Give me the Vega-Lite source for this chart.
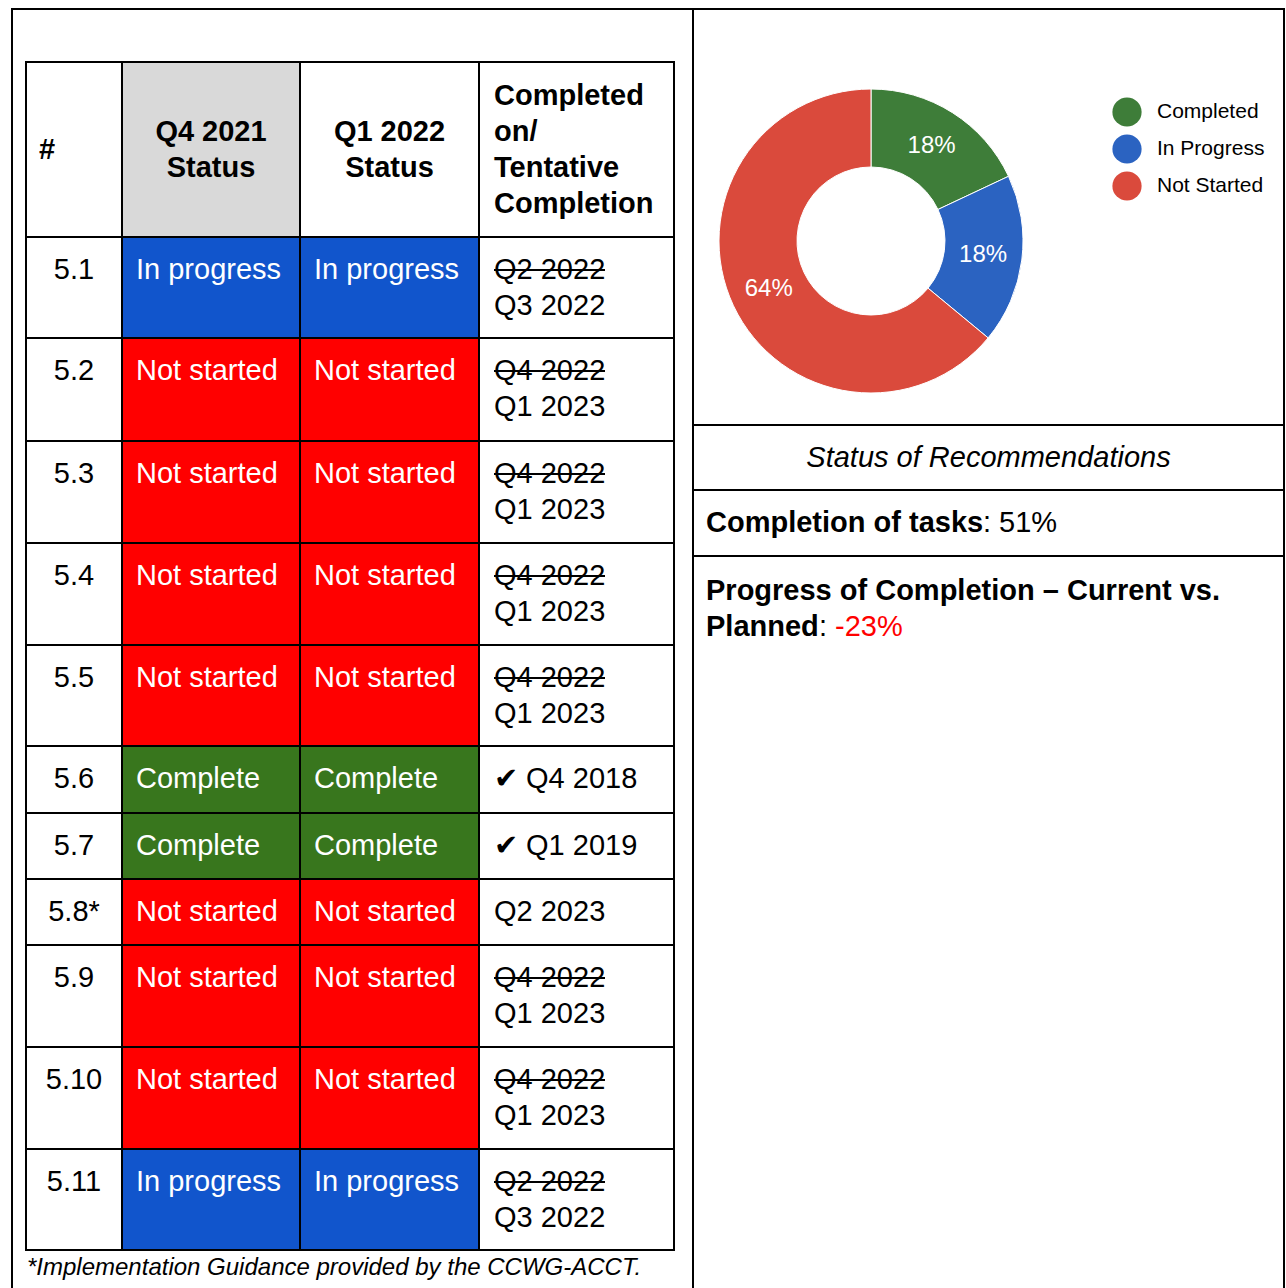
{
  "$schema": "https://vega.github.io/schema/vega-lite/v6.json",
  "background": "white",
  "padding": {"left": 11, "top": 8, "right": 0, "bottom": 0},
  "spacing": 0,
  "bounds": "flush",
  "config": {
    "view": {"stroke": null},
    "font": "Liberation Sans",
    "text": {"font": "Liberation Sans", "fontSize": 29, "color": "black"}
  },
  "datasets": {
    "cells": [
      {"r": 0, "c": 0, "kind": "header", "text": "#"},
      {"r": 0, "c": 1, "kind": "header", "text": ["Q4 2021", "Status"]},
      {"r": 0, "c": 2, "kind": "header", "text": ["Q1 2022", "Status"]},
      {"r": 0, "c": 3, "kind": "header", "text": ["Completed", "on/", "Tentative", "Completion"]},

      {"r": 1, "c": 0, "kind": "id", "text": "5.1"},
      {"r": 1, "c": 1, "kind": "status", "text": "In progress"},
      {"r": 1, "c": 2, "kind": "status", "text": "In progress"},
      {"r": 1, "c": 3, "kind": "date", "text": ["Q2 2022", "Q3 2022"], "struck": true},

      {"r": 2, "c": 0, "kind": "id", "text": "5.2"},
      {"r": 2, "c": 1, "kind": "status", "text": "Not started"},
      {"r": 2, "c": 2, "kind": "status", "text": "Not started"},
      {"r": 2, "c": 3, "kind": "date", "text": ["Q4 2022", "Q1 2023"], "struck": true},

      {"r": 3, "c": 0, "kind": "id", "text": "5.3"},
      {"r": 3, "c": 1, "kind": "status", "text": "Not started"},
      {"r": 3, "c": 2, "kind": "status", "text": "Not started"},
      {"r": 3, "c": 3, "kind": "date", "text": ["Q4 2022", "Q1 2023"], "struck": true},

      {"r": 4, "c": 0, "kind": "id", "text": "5.4"},
      {"r": 4, "c": 1, "kind": "status", "text": "Not started"},
      {"r": 4, "c": 2, "kind": "status", "text": "Not started"},
      {"r": 4, "c": 3, "kind": "date", "text": ["Q4 2022", "Q1 2023"], "struck": true},

      {"r": 5, "c": 0, "kind": "id", "text": "5.5"},
      {"r": 5, "c": 1, "kind": "status", "text": "Not started"},
      {"r": 5, "c": 2, "kind": "status", "text": "Not started"},
      {"r": 5, "c": 3, "kind": "date", "text": ["Q4 2022", "Q1 2023"], "struck": true},

      {"r": 6, "c": 0, "kind": "id", "text": "5.6"},
      {"r": 6, "c": 1, "kind": "status", "text": "Complete"},
      {"r": 6, "c": 2, "kind": "status", "text": "Complete"},
      {"r": 6, "c": 3, "kind": "date", "text": "✔ Q4 2018"},

      {"r": 7, "c": 0, "kind": "id", "text": "5.7"},
      {"r": 7, "c": 1, "kind": "status", "text": "Complete"},
      {"r": 7, "c": 2, "kind": "status", "text": "Complete"},
      {"r": 7, "c": 3, "kind": "date", "text": "✔ Q1 2019"},

      {"r": 8, "c": 0, "kind": "id", "text": "5.8*"},
      {"r": 8, "c": 1, "kind": "status", "text": "Not started"},
      {"r": 8, "c": 2, "kind": "status", "text": "Not started"},
      {"r": 8, "c": 3, "kind": "date", "text": "Q2 2023"},

      {"r": 9, "c": 0, "kind": "id", "text": "5.9"},
      {"r": 9, "c": 1, "kind": "status", "text": "Not started"},
      {"r": 9, "c": 2, "kind": "status", "text": "Not started"},
      {"r": 9, "c": 3, "kind": "date", "text": ["Q4 2022", "Q1 2023"], "struck": true},

      {"r": 10, "c": 0, "kind": "id", "text": "5.10"},
      {"r": 10, "c": 1, "kind": "status", "text": "Not started"},
      {"r": 10, "c": 2, "kind": "status", "text": "Not started"},
      {"r": 10, "c": 3, "kind": "date", "text": ["Q4 2022", "Q1 2023"], "struck": true},

      {"r": 11, "c": 0, "kind": "id", "text": "5.11"},
      {"r": 11, "c": 1, "kind": "status", "text": "In progress"},
      {"r": 11, "c": 2, "kind": "status", "text": "In progress"},
      {"r": 11, "c": 3, "kind": "date", "text": ["Q2 2022", "Q3 2022"], "struck": true},

      {"r": 12, "c": 0, "kind": "note", "text": "*Implementation Guidance provided by the CCWG-ACCT."}
    ],
    "status_share": [
      {"status": "Completed", "share": 0.18},
      {"status": "In Progress", "share": 0.18},
      {"status": "Not Started", "share": 0.64}
    ]
  },
  "hconcat": [
    {
      "width": 681,
      "height": 1281,
      "view": {"stroke": "black", "strokeWidth": 2},
      "data": {"name": "cells"},
      "transform": [
        {"calculate": "datum.c + 1", "as": "c_end"},
        {"calculate": "datum.c + 0.5", "as": "c_mid"},
        {"calculate": "datum.r + 1", "as": "r_end"},
        {"calculate": "datum.r + 0.5", "as": "r_mid"}
      ],
      "encoding": {
        "x": {
          "field": "c", "type": "quantitative", "axis": null,
          "scale": {"domain": [0, 1, 2, 3, 4], "range": [14, 110, 288, 467, 662], "nice": false, "zero": false}
        },
        "y": {
          "field": "r", "type": "quantitative", "axis": null,
          "scale": {
            "domain": [0, 1, 2, 3, 4, 5, 6, 7, 8, 9, 10, 11, 12],
            "range": [53, 228, 329, 432, 534, 636, 737, 804, 870, 936, 1038, 1140, 1241],
            "nice": false, "zero": false
          }
        }
      },
      "layer": [
        {
          "transform": [{"filter": "datum.kind === 'status'"}],
          "mark": {"type": "rect"},
          "encoding": {
            "x2": {"field": "c_end"},
            "y2": {"field": "r_end"},
            "fill": {
              "field": "text", "type": "nominal", "legend": null,
              "scale": {"domain": ["In progress", "Not started", "Complete"], "range": ["#1155cc", "#ff0000", "#38761d"]}
            }
          }
        },
        {
          "transform": [{"filter": "datum.r === 0 && datum.c === 1"}],
          "mark": {"type": "rect", "fill": "#d9d9d9"},
          "encoding": {"x2": {"field": "c_end"}, "y2": {"field": "r_end"}}
        },
        {
          "transform": [{"filter": "datum.kind !== 'note'"}],
          "mark": {"type": "rect", "fillOpacity": 0, "stroke": "black", "strokeWidth": 2},
          "encoding": {"x2": {"field": "c_end"}, "y2": {"field": "r_end"}}
        },
        {
          "transform": [{"filter": "datum.r === 0 && datum.c === 0"}],
          "mark": {"type": "text", "align": "left", "baseline": "middle", "fontWeight": "bold", "dx": 13},
          "encoding": {"y": {"field": "r_mid"}, "text": {"field": "text"}}
        },
        {
          "transform": [{"filter": "datum.r === 0 && (datum.c === 1 || datum.c === 2)"}],
          "mark": {"type": "text", "align": "center", "baseline": "middle", "fontWeight": "bold", "lineHeight": 36, "dy": -18},
          "encoding": {"x": {"field": "c_mid"}, "y": {"field": "r_mid"}, "text": {"field": "text"}}
        },
        {
          "transform": [{"filter": "datum.r === 0 && datum.c === 3"}],
          "mark": {"type": "text", "align": "left", "baseline": "middle", "fontWeight": "bold", "lineHeight": 36, "dx": 15, "dy": -54},
          "encoding": {"y": {"field": "r_mid"}, "text": {"field": "text"}}
        },
        {
          "transform": [{"filter": "datum.kind === 'id'"}],
          "mark": {"type": "text", "align": "center", "baseline": "alphabetic", "dy": 42},
          "encoding": {"x": {"field": "c_mid"}, "text": {"field": "text"}}
        },
        {
          "transform": [{"filter": "datum.kind === 'status'"}],
          "mark": {"type": "text", "align": "left", "baseline": "alphabetic", "dx": 14, "dy": 42, "color": "white"},
          "encoding": {"text": {"field": "text"}}
        },
        {
          "transform": [{"filter": "datum.kind === 'date'"}],
          "mark": {"type": "text", "align": "left", "baseline": "alphabetic", "dx": 15, "dy": 42, "lineHeight": 36},
          "encoding": {"text": {"field": "text"}}
        },
        {
          "transform": [{"filter": "datum.struck === true"}],
          "mark": {"type": "rule", "color": "black", "strokeWidth": 2, "xOffset": 15, "x2Offset": 126, "yOffset": 33},
          "encoding": {"x2": {"field": "c"}}
        },
        {
          "transform": [{"filter": "datum.kind === 'note'"}],
          "mark": {"type": "text", "align": "left", "baseline": "middle", "fontStyle": "italic", "fontSize": 24, "dx": 1, "dy": 18},
          "encoding": {"text": {"field": "text"}}
        }
      ]
    },
    {
      "spacing": 0,
      "bounds": "flush",
      "vconcat": [
        {
          "width": 591,
          "height": 416,
          "view": {"stroke": "black", "strokeWidth": 2},
          "data": {"name": "status_share"},
          "encoding": {"theta": {"field": "share", "type": "quantitative", "stack": true}},
          "layer": [
            {
              "mark": {"type": "arc", "innerRadius": 74, "outerRadius": 152, "xOffset": -117.5, "yOffset": 24, "stroke": "white", "strokeWidth": 1},
              "encoding": {
                "color": {
                  "field": "status", "type": "nominal",
                  "scale": {"domain": ["Completed", "In Progress", "Not Started"], "range": ["#3e7d39", "#2b63c1", "#da4a3c"]},
                  "legend": {
                    "orient": "none", "legendX": 1100, "legendY": 88, "title": null, "padding": 0,
                    "symbolType": "circle", "symbolSize": 855, "symbolStrokeWidth": 0, "symbolOpacity": 1,
                    "labelFont": "Liberation Sans", "labelFontSize": 21, "labelColor": "black",
                    "labelOffset": 15, "rowPadding": 7
                  }
                }
              }
            },
            {
              "mark": {"type": "text", "radius": 113, "xOffset": -117.5, "yOffset": 24, "fontSize": 24, "color": "white", "align": "center", "baseline": "middle"},
              "encoding": {
                "detail": {"field": "status", "type": "nominal"},
                "text": {"field": "share", "type": "quantitative", "format": ".0%"}
              }
            }
          ]
        },
        {
          "width": 591,
          "height": 65,
          "view": {"stroke": "black", "strokeWidth": 2},
          "data": {"values": [{"caption": "Status of Recommendations"}]},
          "mark": {"type": "text", "align": "center", "baseline": "middle", "fontStyle": "italic", "fontSize": 29},
          "encoding": {"text": {"field": "caption"}}
        },
        {
          "width": 591,
          "height": 66,
          "view": {"stroke": "black", "strokeWidth": 2},
          "data": {"values": [{"metric": "Completion of tasks", "value": "51%"}]},
          "encoding": {"x": {"value": 0}},
          "layer": [
            {
              "mark": {"type": "text", "align": "left", "baseline": "middle", "fontWeight": "bold", "dx": 13},
              "encoding": {"text": {"field": "metric"}}
            },
            {
              "mark": {"type": "text", "align": "left", "baseline": "middle", "dx": 290},
              "encoding": {"text": {"value": ":"}}
            },
            {
              "mark": {"type": "text", "align": "left", "baseline": "middle", "dx": 306},
              "encoding": {"text": {"field": "value"}}
            }
          ]
        },
        {
          "width": 591,
          "height": 734,
          "view": {"stroke": "black", "strokeWidth": 2},
          "data": {"values": [{"line1": "Progress of Completion – Current vs.", "line2": "Planned", "value": "-23%"}]},
          "encoding": {"x": {"value": 0}},
          "layer": [
            {
              "mark": {"type": "text", "align": "left", "baseline": "middle", "fontWeight": "bold", "dx": 13},
              "encoding": {"y": {"value": 35}, "text": {"field": "line1"}}
            },
            {
              "mark": {"type": "text", "align": "left", "baseline": "middle", "fontWeight": "bold", "dx": 13},
              "encoding": {"y": {"value": 71}, "text": {"field": "line2"}}
            },
            {
              "mark": {"type": "text", "align": "left", "baseline": "middle", "dx": 126},
              "encoding": {"y": {"value": 71}, "text": {"value": ":"}}
            },
            {
              "mark": {"type": "text", "align": "left", "baseline": "middle", "dx": 142, "color": "#ff0000"},
              "encoding": {"y": {"value": 71}, "text": {"field": "value"}}
            }
          ]
        }
      ]
    }
  ]
}
